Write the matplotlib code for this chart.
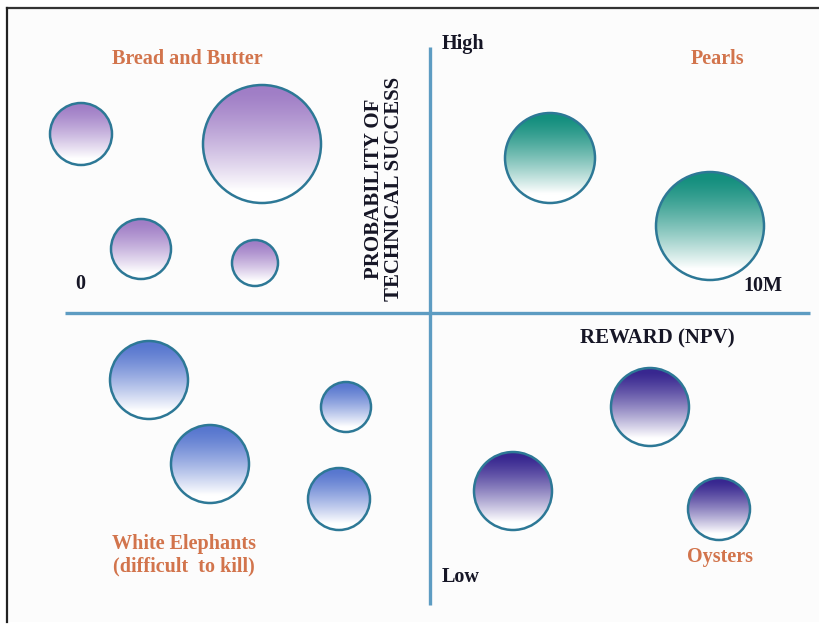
import numpy as np
import matplotlib
matplotlib.use("Agg")
import matplotlib.pyplot as plt
from matplotlib.patches import Circle
from matplotlib.colors import to_rgb

# Portfolio bubbles: centre on the reward / probability canvas and bubble radius
groups = ["Bread and Butter", "Pearls", "White Elephants", "Oysters"]
bubble_group = [0, 0, 0, 0, 1, 1, 2, 2, 2, 2, 3, 3, 3]
bubble_x = [81, 262, 141, 255, 550, 710, 149, 210, 346, 339, 650, 513, 719]
bubble_y = [134, 144, 249, 263, 158, 226, 380, 464, 407, 499, 407, 491, 509]
bubble_r = [31, 59, 30, 23, 45, 54, 39, 39, 25, 31, 39, 39, 31]
group_colors = ["#a07ec6", "#148f7e", "#5877cf", "#382790"]

quadrant_labels = ["Bread and Butter", "Pearls", "White Elephants\n(difficult  to kill)", "Oysters"]
quadrant_label_xy = [(187, 59), (718, 59), (184, 555), (720, 557)]

W, H = 820, 628
fig = plt.figure(figsize=(W / 100, H / 100), dpi=100)
ax = fig.add_axes([0, 0, 1, 1])
ax.set_xlim(0, W)
ax.set_ylim(H, 0)
ax.set_aspect("equal")
ax.axis("off")

# panel background and frame (top and left rules)
ax.add_patch(plt.Rectangle((7, 8), W - 7, 614, facecolor="#fcfcfc", edgecolor="none", zorder=0))
ax.plot([7, W], [8, 8], color="#333333", lw=1.6, zorder=1)
ax.plot([7, 7], [8, 622], color="#222222", lw=1.6, zorder=1)

# quadrant axes
axis_color = "#5d9cc2"
ax.plot([430, 430], [47, 605], color=axis_color, lw=2.4, zorder=2, solid_capstyle="butt")
ax.plot([65, 810], [313, 313], color=axis_color, lw=2.4, zorder=2, solid_capstyle="butt")

# gradient bubbles: colour at the top fading to white towards the bottom
for g, x, y, r in zip(bubble_group, bubble_x, bubble_y, bubble_r):
    top = np.array(to_rgb(group_colors[g]))
    t = np.linspace(0, 1, 200)[:, None]
    w = np.clip((t - 0.05) / 0.85, 0, 1) ** 1.25
    col = top[None, :] * (1 - w) + np.ones(3)[None, :] * w
    img = np.repeat(col[:, None, :], 2, axis=1)
    im = ax.imshow(img, extent=(x - r, x + r, y + r, y - r), aspect="auto",
                   interpolation="bilinear", zorder=3)
    clip = Circle((x, y), r, transform=ax.transData, facecolor="none", edgecolor="none")
    ax.add_patch(clip)
    im.set_clip_path(clip)
    ax.add_patch(Circle((x, y), r, facecolor="none", edgecolor="#2d7896", lw=1.8, zorder=4))

serif = ["Liberation Serif", "DejaVu Serif"]
label_color = "#d2744c"
dark = "#161626"

for text, (lx, ly) in zip(quadrant_labels, quadrant_label_xy):
    ax.text(lx, ly, text, ha="center", va="center", family=serif, fontweight="bold",
            fontsize=14.5, color=label_color, linespacing=1.2, zorder=5)

ax.text(442, 44, "High", ha="left", va="center", family=serif, fontweight="bold",
        fontsize=14.5, color=dark, zorder=5)
ax.text(442, 577, "Low", ha="left", va="center", family=serif, fontweight="bold",
        fontsize=14.5, color=dark, zorder=5)
ax.text(80, 284, "0", ha="center", va="center", family=serif, fontweight="bold",
        fontsize=14.5, color=dark, zorder=5)
ax.text(763, 286, "10M", ha="center", va="center", family=serif, fontweight="bold",
        fontsize=14.5, color=dark, zorder=5)
ax.text(657, 338, "REWARD (NPV)", ha="center", va="center", family=serif, fontweight="bold",
        fontsize=15, color=dark, zorder=5)
ax.text(384, 189, "PROBABILITY OF\nTECHNICAL SUCCESS", ha="center", va="center",
        rotation=90, family=serif, fontweight="bold", fontsize=15, color=dark,
        linespacing=1.0, zorder=5)

fig.savefig("out.png", dpi=100, facecolor="white")
